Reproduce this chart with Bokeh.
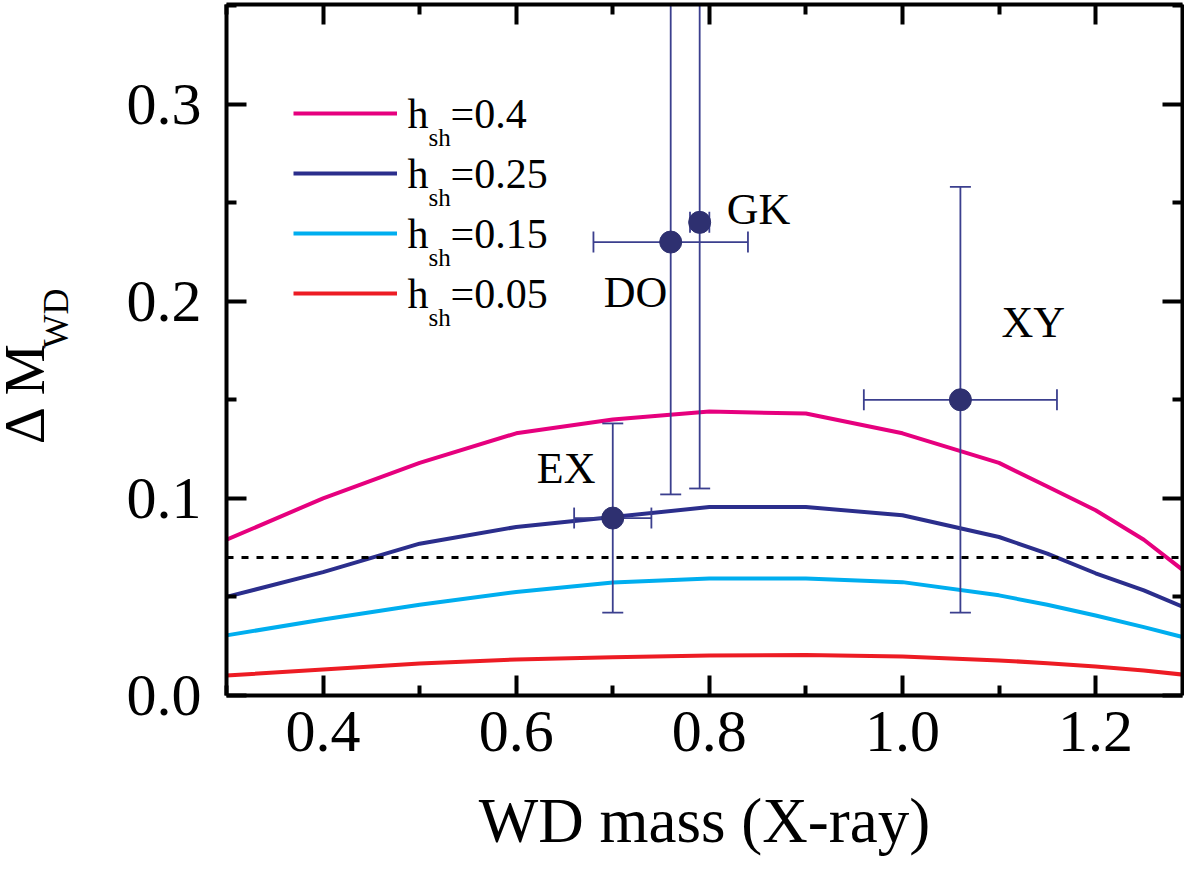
import numpy as np
from bokeh.plotting import figure
from bokeh.layouts import row
from bokeh.models import (Range1d, LinearAxis, FixedTicker, PrintfTickFormatter,
                          CustomJSTickFormatter, Span, Label, Legend, LegendItem,
                          ColumnDataSource)
from bokeh.core.properties import value
from bokeh.embed import file_html
from bokeh.resources import INLINE

FONT = "Liberation Serif"

# model curves: Delta M_WD versus WD mass for different h_sh
model_mass = [0.3, 0.4, 0.5, 0.6, 0.7, 0.8, 0.9, 1.0, 1.1, 1.15, 1.2, 1.25, 1.3]
dm_h040 = [0.079, 0.100, 0.118, 0.133, 0.140, 0.144, 0.143, 0.133, 0.118, 0.106, 0.094, 0.079, 0.060]
dm_h025 = [0.050, 0.0626, 0.077, 0.0855, 0.0905, 0.0956, 0.0956, 0.0914, 0.0804, 0.072, 0.062, 0.0533, 0.043]
dm_h015 = [0.0305, 0.0385, 0.046, 0.0525, 0.0573, 0.0594, 0.0594, 0.0575, 0.0508, 0.046, 0.0406, 0.0347, 0.0284]
dm_h005 = [0.0101, 0.0132, 0.0162, 0.0183, 0.0194, 0.0203, 0.0206, 0.0198, 0.0178, 0.0164, 0.0147, 0.0127, 0.0101]
h_labels = ["0.4", "0.25", "0.15", "0.05"]
h_colors = ["#E6007E", "#2B2E8C", "#00AEEF", "#ED1C24"]

# observed systems
obs_names = ["EX", "DO", "GK", "XY"]
obs_mass = [0.70, 0.76, 0.79, 1.06]
obs_mass_err = [0.04, 0.08, 0.01, 0.10]
obs_dm = [0.09, 0.23, 0.24, 0.15]
obs_dm_err = [0.048, 0.128, 0.135, 0.108]
# label offsets in pixels (dx, dy)
obs_label_offsets = [(-76, -50), (-67, 50), (27, -13), (41, -77)]

threshold = 0.07
x_ticks = [0.4, 0.6, 0.8, 1.0, 1.2]
x_minor = [0.3, 0.5, 0.7, 0.9, 1.1, 1.3]
y_ticks = [0.0, 0.1, 0.2, 0.3]
y_minor = [0.05, 0.15, 0.25, 0.35]

H = 859
LAB_W = 100

p = figure(width=1184 - LAB_W, height=H,
           x_range=Range1d(0.3, 1.29), y_range=Range1d(0.0, 0.3505),
           x_axis_type=None, y_axis_type=None,
           output_backend="svg", toolbar_location=None,
           min_border_left=226 - LAB_W, min_border_right=2,
           min_border_top=4, min_border_bottom=H - 695)
p.outline_line_color = None
p.background_fill_color = "white"


def style_axis(ax, ticks, minor, show_labels):
    ax.ticker = FixedTicker(ticks=ticks, minor_ticks=minor)
    ax.axis_line_width = 4
    ax.axis_line_color = "black"
    ax.major_tick_line_width = 4
    ax.minor_tick_line_width = 4
    ax.major_tick_in = 20
    ax.major_tick_out = 0
    ax.minor_tick_in = 10
    ax.minor_tick_out = 0
    if show_labels:
        ax.formatter = PrintfTickFormatter(format="%.1f")
        ax.major_label_text_font = FONT
        ax.major_label_text_font_size = "60px"
        ax.major_label_text_color = "black"
    else:
        ax.formatter = CustomJSTickFormatter(code="return ''")
        ax.major_label_text_font_size = "1px"
        ax.major_label_standoff = 0


xb = LinearAxis()
style_axis(xb, x_ticks, x_minor, True)
xb.major_label_standoff = 16
xb.axis_label = "WD mass (X-ray)"
xb.axis_label_text_font = FONT
xb.axis_label_text_font_size = "63px"
xb.axis_label_text_font_style = "normal"
xb.axis_label_text_color = "black"
xb.axis_label_standoff = 32
p.add_layout(xb, "below")

yl = LinearAxis()
style_axis(yl, y_ticks, y_minor, True)
yl.major_label_standoff = 25
p.add_layout(yl, "left")

xt = LinearAxis()
style_axis(xt, x_ticks, x_minor, False)
p.add_layout(xt, "above")

yr = LinearAxis()
style_axis(yr, y_ticks, y_minor, False)
p.add_layout(yr, "right")

# model curves
renderers = []
for dm, col in zip([dm_h040, dm_h025, dm_h015, dm_h005], h_colors):
    r = p.line(model_mass, dm, line_width=4, line_color=col)
    renderers.append(r)

p.add_layout(Span(location=threshold, dimension="width", line_color="black",
                  line_width=3, line_dash="7 8"))

# observed points with error bars
ERR = "#3B3F8E"
src = ColumnDataSource(dict(
    x=obs_mass, y=obs_dm, name=obs_names,
    x_lo=[m - e for m, e in zip(obs_mass, obs_mass_err)],
    x_hi=[m + e for m, e in zip(obs_mass, obs_mass_err)],
    y_lo=[d - e for d, e in zip(obs_dm, obs_dm_err)],
    y_hi=[d + e for d, e in zip(obs_dm, obs_dm_err)],
    dx=[o[0] for o in obs_label_offsets],
    dy=[o[1] for o in obs_label_offsets],
))
p.segment(x0="x_lo", y0="y", x1="x_hi", y1="y", source=src, line_color=ERR, line_width=1.8)
p.segment(x0="x", y0="y_lo", x1="x", y1="y_hi", source=src, line_color=ERR, line_width=1.8)
for col in ["y_lo", "y_hi"]:
    p.scatter(x="x", y=col, source=src, marker="dash", size=21, line_color=ERR, line_width=1.8)
for col in ["x_lo", "x_hi"]:
    p.scatter(x=col, y="y", source=src, marker="dash", angle=np.pi / 2, size=21,
              line_color=ERR, line_width=1.8)
p.scatter(x="x", y="y", source=src, size=22, fill_color="#2E3070", line_color="#2E3070")

p.text(x="x", y="y", text="name", source=src, x_offset="dx", y_offset="dy",
       text_font=value(FONT), text_font_size="44px", text_color="black",
       text_baseline="alphabetic", text_align="left")

# legend: sample lines from the library, labels with subscripts drawn as text
legend = Legend(items=[LegendItem(label="", renderers=[r]) for r in renderers],
                location=(67, 392), glyph_width=104, glyph_height=20,
                label_height=20, label_width=0, label_standoff=0, spacing=40,
                padding=0, margin=0, border_line_color=None,
                background_fill_alpha=0)
p.add_layout(legend)

for i, lab in enumerate(h_labels):
    base = 582 - 60 * i
    p.add_layout(Label(x=181, y=base, x_units="screen", y_units="screen", text="h",
                       text_font=FONT, text_font_size="42px", text_color="black",
                       text_baseline="alphabetic"))
    p.add_layout(Label(x=202, y=base - 24, x_units="screen", y_units="screen", text="sh",
                       text_font=FONT, text_font_size="25px", text_color="black",
                       text_baseline="alphabetic"))
    p.add_layout(Label(x=224, y=base, x_units="screen", y_units="screen", text="=" + lab,
                       text_font=FONT, text_font_size="42px", text_color="black",
                       text_baseline="alphabetic"))

# y-axis title with subscript, drawn in a narrow side panel (centre anchored)
lab_fig = figure(frame_width=LAB_W, frame_height=H, x_range=Range1d(0, LAB_W),
                 y_range=Range1d(0, H), x_axis_type=None, y_axis_type=None,
                 output_backend="svg", toolbar_location=None, min_border=0)
lab_fig.outline_line_color = None
lab_fig.title.visible = False
lab_fig.text(x=[24], y=[H - 388], text=["Δ M"], angle=np.pi / 2,
             text_font=value(FONT), text_font_size="58px", text_color="black",
             text_baseline="middle", text_align="center")
lab_fig.text(x=[55], y=[H - 314], text=["WD"], angle=np.pi / 2,
             text_font=value(FONT), text_font_size="36px", text_color="black",
             text_baseline="middle", text_align="center")

layout = row(lab_fig, p)
open("out.html", "w").write(file_html(layout, INLINE))
